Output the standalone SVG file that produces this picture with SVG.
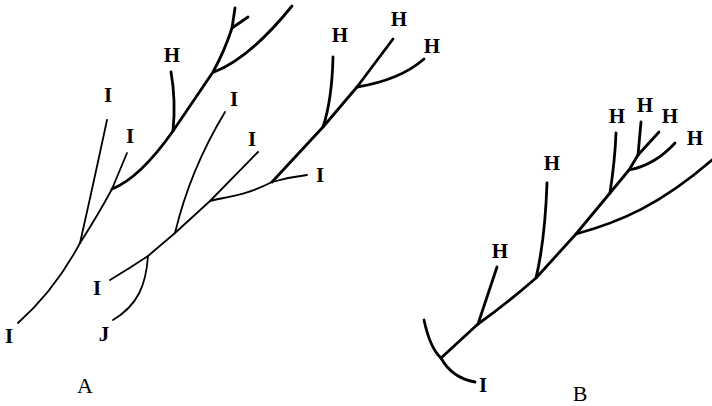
<svg xmlns="http://www.w3.org/2000/svg" width="712" height="406" viewBox="0 0 712 406">
  <style>
    .thin { fill: none; stroke: #000; stroke-width: 1.8; stroke-linecap: round; stroke-linejoin: round; }
    .thick { fill: none; stroke: #000; stroke-width: 2.8; stroke-linecap: round; stroke-linejoin: round; }
    .lbl { font-family: "Liberation Serif", "Times New Roman", serif; font-size: 21px; font-weight: bold; fill: #000; text-anchor: middle; }
    .cap { font-family: "Liberation Serif", "Times New Roman", serif; font-size: 22px; fill: #000; text-anchor: middle; }
  </style>
  <rect width="712" height="406" fill="#fff"/>

  <!-- branch lines -->
  <g id="connectors">
    <!-- tree A, left lineage -->
    <path class="thin" d="M18,323 Q55,290 80,243"/>
    <path class="thin" d="M80,243 Q92,190 107,120"/>
    <path class="thin" d="M80,243 Q98,215 112,189 L127,153"/>
    <path class="thick" d="M112,189 Q140,178 173,131 L213,72 Q225,50 232,28 L235,8"/>
    <path class="thick" d="M232,28 L248,17"/>
    <path class="thick" d="M214,72 Q250,58 292,6"/>
    <path class="thick" d="M173,131 Q176,100 171,72"/>
    <!-- tree A, right lineage -->
    <path class="thin" d="M110,280 Q130,268 148,256 L175,233 L210,201 L258,152"/>
    <path class="thin" d="M148,256 C146,285 138,305 113,320"/>
    <path class="thin" d="M175,233 Q190,170 225,112"/>
    <path class="thin" d="M210,201 C225,197 245,196 272,182 Q290,177 307,175"/>
    <path class="thick" d="M272,182 L323,127 L357,87 L393,39"/>
    <path class="thick" d="M323,127 Q332,100 333,57"/>
    <path class="thick" d="M357,87 Q400,80 424,59"/>
    <!-- tree B -->
    <path class="thick" d="M424,320 Q430,348 441,358"/>
    <path class="thick" d="M441,358 Q452,378 475,382"/>
    <path class="thick" d="M441,358 L478,324 Q505,305 536,278 L576,234 L610,193 L629,170 L638,155"/>
    <path class="thick" d="M478,324 L497,267"/>
    <path class="thick" d="M536,278 Q545,240 547,183"/>
    <path class="thick" d="M576,234 C620,222 660,205 712,160"/>
    <path class="thick" d="M610,193 Q615,160 616,133"/>
    <path class="thick" d="M629,170 Q655,165 675,143"/>
    <path class="thick" d="M638,155 L641,122"/>
    <path class="thick" d="M638,155 L659,132"/>
  </g>

  <!-- tip labels, tree A -->
  <g id="treeA">
    <text class="lbl" x="9" y="343">I</text>
    <text class="lbl" x="97" y="295">I</text>
    <text class="lbl" x="104" y="341">J</text>
    <text class="lbl" x="108" y="102">I</text>
    <text class="lbl" x="130" y="143">I</text>
    <text class="lbl" x="172" y="62">H</text>
    <text class="lbl" x="234" y="106">I</text>
    <text class="lbl" x="252" y="146">I</text>
    <text class="lbl" x="320" y="182">I</text>
    <text class="lbl" x="340" y="42">H</text>
    <text class="lbl" x="399" y="26">H</text>
    <text class="lbl" x="432" y="53">H</text>
    <text class="cap" x="85" y="393">A</text>
  </g>

  <!-- tip labels, tree B -->
  <g id="treeB">
    <text class="lbl" x="483" y="392">I</text>
    <text class="lbl" x="500" y="258">H</text>
    <text class="lbl" x="552" y="170">H</text>
    <text class="lbl" x="617" y="123">H</text>
    <text class="lbl" x="645" y="112">H</text>
    <text class="lbl" x="670" y="123">H</text>
    <text class="lbl" x="695" y="145">H</text>
    <text class="cap" x="580" y="401">B</text>
  </g>
</svg>
